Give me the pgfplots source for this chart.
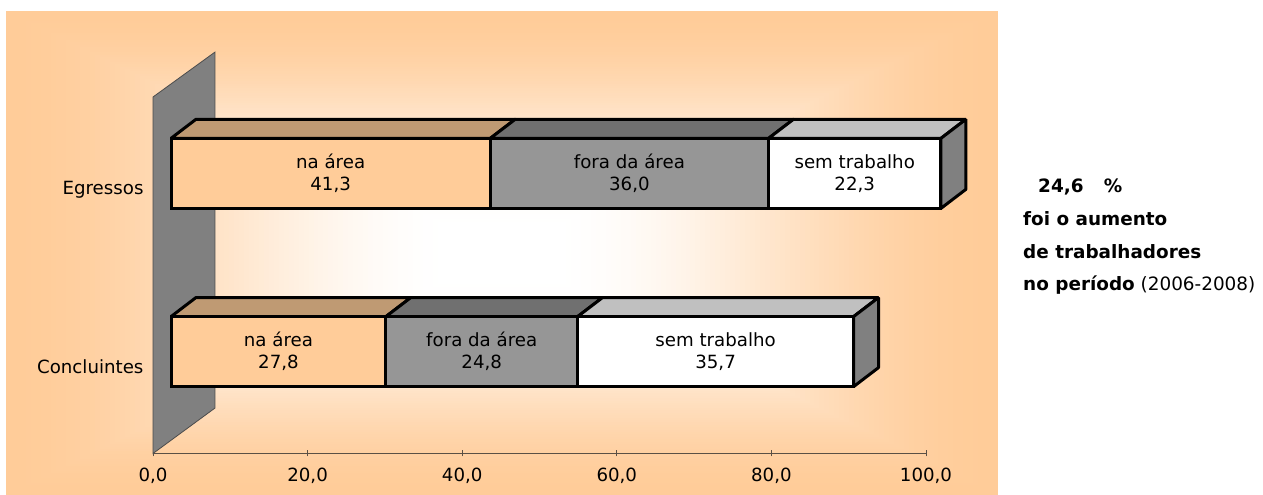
\documentclass[border=0pt]{standalone}
\usepackage{fontspec}
\setmainfont{DejaVu Sans}
\usepackage{pgfplots}
\pgfplotsset{compat=1.18}
\definecolor{peach}{HTML}{FFCC99}
\definecolor{tan3d}{HTML}{BF9A73}
\definecolor{midgray}{HTML}{969696}
\definecolor{darkface}{HTML}{707070}
\definecolor{lightface}{HTML}{C0C0C0}
\definecolor{wall}{HTML}{808080}
\definecolor{axisline}{HTML}{5A5045}
\tikzset{
  lab/.style={align=center, font=\fontsize{18.2}{22}\selectfont},
  note/.style={anchor=base west, inner sep=0pt, font=\fontsize{18.4}{22}\selectfont},
  face/.style={draw=black, line width=3pt, line join=bevel},
}

\begin{document}
\begin{tikzpicture}[x=1pt,y=1pt]
\path[use as bounding box] (0,0) rectangle (1263,495);

% rectangular gradient of the chart area
\foreach \i in {0,...,100}{
  \pgfmathsetmacro{\t}{1-\i/100}
  \pgfmathsetmacro{\s}{max(0,(\t-0.1)/0.9)}
  \pgfmathsetmacro{\p}{100*(1-\s*\s*(3-2*\s))}
  \fill[white!\p!peach] ({502-496*\t},{242-242*\t}) rectangle ({502+496*\t},{242+242*\t});
}

% back axis: ticks, wall and the 3d faces
\begin{axis}[
  at={(153pt,41.5pt)}, anchor=south west,
  scale only axis, width=773pt, height=356.5pt,
  xmin=0, xmax=100, ymin=-0.5, ymax=1.5,
  clip=false,
  axis x line=bottom, axis y line=left,
  axis line style={-, draw=axisline, line width=1pt},
  y axis line style={draw=none},
  xtick={0,20,40,60,80,100},
  xticklabels={{0,0},{20,0},{40,0},{60,0},{80,0},{100,0}},
  ytick={0,1},
  yticklabels={Concluintes,Egressos},
  major tick length=6pt,
  tick style={draw=axisline, line width=1pt},
  ytick style={draw=none},
  tick label style={font=\fontsize{18.2}{22}\selectfont},
  x tick label style={yshift=-8pt},
  y tick label style={anchor=base east, yshift=-8.7pt, xshift=-3pt},
]
% wall
\addplot[fill=wall, draw=black!70, line width=0.8pt] coordinates {(0,-0.5) (8.02,-0.245) (8.02,1.752) (0,1.5)} --cycle;

% Concluintes, top faces
\addplot[fill=tan3d, face] coordinates {(2.33,0.268) (30.13,0.268) (33.36,0.375) (5.56,0.375)} --cycle;
\addplot[fill=darkface, face] coordinates {(30.13,0.268) (54.93,0.268) (58.16,0.375) (33.36,0.375)} --cycle;
\addplot[fill=lightface, face] coordinates {(54.93,0.268) (90.63,0.268) (93.86,0.375) (58.16,0.375)} --cycle;
% Concluintes, end face
\addplot[fill=wall, face] coordinates {(90.63,-0.125) (90.63,0.268) (93.86,0.375) (93.86,-0.018)} --cycle;

% Egressos, top faces
\addplot[fill=tan3d, face] coordinates {(2.33,1.268) (43.63,1.268) (46.86,1.375) (5.56,1.375)} --cycle;
\addplot[fill=darkface, face] coordinates {(43.63,1.268) (79.63,1.268) (82.86,1.375) (46.86,1.375)} --cycle;
\addplot[fill=lightface, face] coordinates {(79.63,1.268) (101.93,1.268) (105.16,1.375) (82.86,1.375)} --cycle;
% Egressos, end face
\addplot[fill=wall, face] coordinates {(101.93,0.875) (101.93,1.268) (105.16,1.375) (105.16,0.982)} --cycle;
\end{axis}

% front of the bars, same scale, moved by the depth of the bar
\begin{axis}[
  at={(171pt,54.3pt)}, anchor=south west,
  scale only axis, width=773pt, height=356.5pt,
  xmin=0, xmax=100, ymin=-0.5, ymax=1.5,
  clip=false, hide axis,
  xbar stacked, bar width=70pt,
  every axis plot/.append style={draw=black, line width=3pt},
]
\addplot[fill=peach] coordinates {(27.8,0) (41.3,1)};
\addplot[fill=midgray] coordinates {(24.8,0) (36.0,1)};
\addplot[fill=white] coordinates {(35.7,0) (22.3,1)};
\end{axis}

% bar labels in their own axis, stacked plots are drawn last otherwise
\begin{axis}[
  at={(171pt,54.3pt)}, anchor=south west,
  scale only axis, width=773pt, height=356.5pt,
  xmin=0, xmax=100, ymin=-0.5, ymax=1.5,
  clip=false, hide axis,
]
\node[lab] at (axis cs:13.9,0) {na área\\27,8};
\node[lab] at (axis cs:40.2,0) {fora da área\\24,8};
\node[lab] at (axis cs:70.45,0) {sem trabalho\\35,7};
\node[lab] at (axis cs:20.65,1) {na área\\41,3};
\node[lab] at (axis cs:59.3,1) {fora da área\\36,0};
\node[lab] at (axis cs:88.45,1) {sem trabalho\\22,3};
\end{axis}

% side note
\node[note] at (1038,302) {\textbf{24,6\hspace{1.1em}\%}};
\node[note] at (1023,269) {\textbf{foi o aumento}};
\node[note] at (1023,236) {\textbf{de trabalhadores}};
\node[note] at (1023,204) {\textbf{no período} (2006-2008)};
\end{tikzpicture}
\end{document}
